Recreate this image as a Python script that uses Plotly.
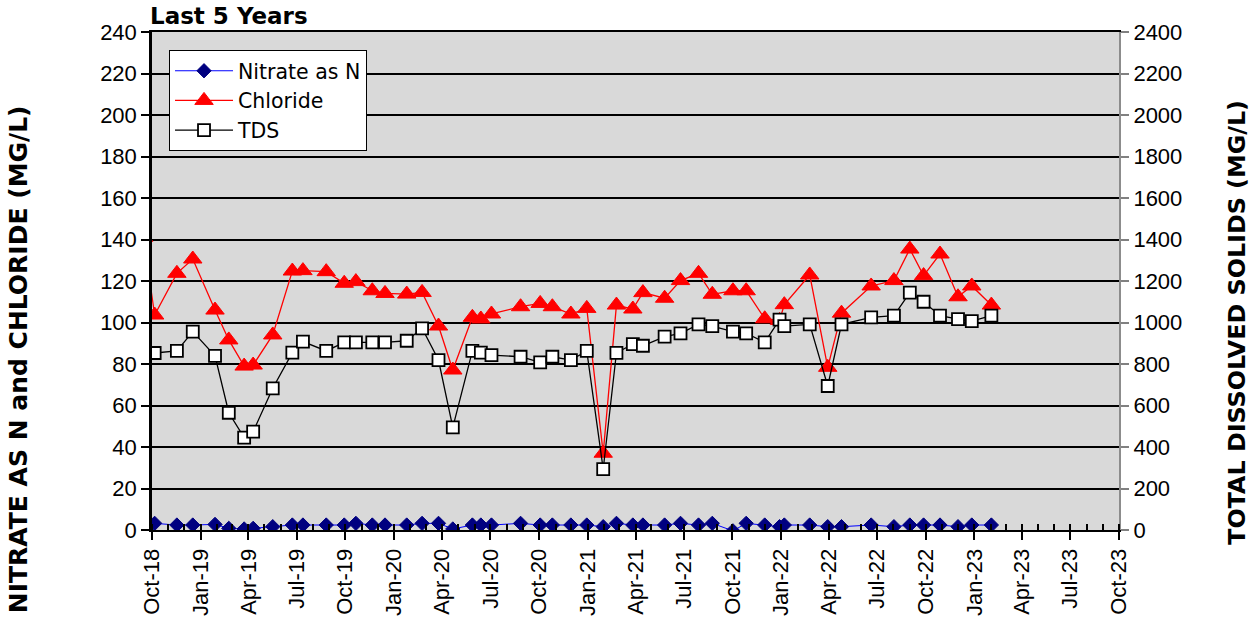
import plotly.graph_objects as go

# Sampling dates shared by the nitrate and TDS series
sample_dates = [
    "2018-10-06", "2018-11-17", "2018-12-17", "2019-01-28", "2019-02-23",
    "2019-03-24", "2019-04-10", "2019-05-17", "2019-06-23", "2019-07-13",
    "2019-08-26", "2019-09-29", "2019-10-21", "2019-11-21", "2019-12-15",
    "2020-01-25", "2020-02-23", "2020-03-25", "2020-04-21", "2020-05-28",
    "2020-06-13", "2020-07-03", "2020-08-27", "2020-10-03", "2020-10-26",
    "2020-11-30", "2020-12-30", "2021-01-30", "2021-02-24", "2021-03-27",
    "2021-04-15", "2021-05-26", "2021-06-25", "2021-07-29", "2021-08-24",
    "2021-10-02", "2021-10-27", "2021-12-01", "2021-12-29", "2022-01-07",
    "2022-02-24", "2022-03-30", "2022-04-25", "2022-06-20", "2022-08-02",
    "2022-09-01", "2022-09-27", "2022-10-28", "2022-12-01", "2022-12-27",
    "2023-02-02",
]

nitrate = [
    3.2, 2.4, 2.4, 2.7, 0.8, 0.5, 0.8, 1.6, 2.4, 2.4,
    2.4, 2.4, 3.2, 2.4, 2.4, 2.4, 3.2, 3.2, 0.5, 2.4,
    2.4, 2.4, 3.2, 2.4, 2.4, 2.4, 2.4, 1.6, 3.2, 2.4,
    2.4, 2.4, 3.2, 2.4, 3.2, -0.4, 3.2, 2.4, 1.6, 2.4,
    2.4, 1.6, 1.6, 2.4, 1.6, 2.4, 2.4, 2.4, 1.6, 2.4,
    2.4,
]

# Chloride also carries the sample taken just before the 5-year window
chloride_dates = ["2018-09-15"] + sample_dates
chloride = [
    141,
    103.6, 123.7, 130.6, 106.0, 91.6, 79.0, 79.5, 94.0, 124.8, 125.0,
    124.5, 118.9, 119.7, 115.3, 114.0, 113.7, 114.5, 98.3, 77.1, 102.5,
    101.7, 104.1, 107.6, 109.2, 107.6, 104.1, 106.8, 37.0, 108.4, 106.5,
    114.4, 111.7, 120.2, 123.7, 113.6, 115.3, 115.3, 101.8, 101.0, 108.6,
    122.9, 78.4, 104.5, 117.6, 120.2, 135.4, 122.6, 133.0, 112.4, 117.6,
    108.4,
]

tds = [
    853, 863, 956, 839, 565, 445, 474, 683, 855, 908,
    863, 904, 904, 904, 904, 912, 972, 819, 495, 863,
    855, 843, 835, 808, 835, 819, 863, 293, 854, 896,
    888, 932, 948, 991, 983, 956, 948, 904, 1014, 983,
    991, 694, 991, 1025, 1033, 1144, 1100, 1033, 1016, 1007,
    1033,
]

left_ticks = list(range(0, 241, 20))
right_ticks = list(range(0, 2401, 200))

TICK_FONT = dict(family="Liberation Sans, Arial, sans-serif", size=22, color="black")
TITLE_FONT = "DejaVu Sans, Verdana, sans-serif"

fig = go.Figure()

fig.add_trace(go.Scatter(
    x=sample_dates, y=nitrate, name="Nitrate as N", mode="lines+markers",
    line=dict(color="#0000FF", width=1),
    marker=dict(symbol="diamond", size=11, color="#000080",
                line=dict(color="#000080", width=1)),
    yaxis="y",
))

fig.add_trace(go.Scatter(
    x=chloride_dates, y=chloride, name="Chloride", mode="lines+markers",
    line=dict(color="#FF0000", width=1.3),
    marker=dict(symbol="triangle-up", size=16, color="#FF0000",
                line=dict(color="#FF0000", width=1)),
    yaxis="y",
))

fig.add_trace(go.Scatter(
    x=sample_dates, y=tds, name="TDS", mode="lines+markers",
    line=dict(color="black", width=1.3),
    marker=dict(symbol="square", size=12, color="white",
                line=dict(color="black", width=1.8)),
    yaxis="y2",
))

fig.update_layout(
    width=1255, height=621,
    margin=dict(l=152, r=136, t=32, b=91),
    paper_bgcolor="white",
    plot_bgcolor="#D9D9D9",
    showlegend=True,
    legend=dict(
        x=0.0176, y=0.964, xanchor="left", yanchor="top",
        bgcolor="white", bordercolor="black", borderwidth=1,
        font=dict(family=TITLE_FONT, size=20.5, color="black"),
        tracegroupgap=0, itemwidth=58,
    ),
    xaxis=dict(
        type="date", automargin=False,
        range=["2018-10-01", "2023-10-01"],
        tick0="2018-10-01", dtick="M3", tickformat="%b-%y",
        tickangle=-90, tickfont=TICK_FONT,
        ticks="outside", ticklen=8, tickwidth=2, tickcolor="black",
        minor=dict(dtick="M1", ticks="inside", ticklen=6, tickwidth=1.5,
                   tickcolor="black", showgrid=False),
        showgrid=False, zeroline=False,
        showline=True, linecolor="black", linewidth=2, mirror=True,
    ),
    yaxis=dict(
        automargin=False,
        range=[0, 240], tickvals=left_ticks, tickfont=TICK_FONT,
        ticks="outside", ticklen=8, tickwidth=2, tickcolor="black",
        showgrid=True, gridcolor="black", gridwidth=2,
        zeroline=False, showline=True, linecolor="black", linewidth=2.5,
    ),
    yaxis2=dict(
        automargin=False,
        overlaying="y", side="right",
        range=[0, 2400], tickvals=right_ticks, tickfont=TICK_FONT,
        ticks="outside", ticklen=8, tickwidth=2, tickcolor="#808080",
        showgrid=False, zeroline=False,
        showline=True, linecolor="#8C8C8C", linewidth=2,
    ),
    annotations=[
        dict(text="<b>Last 5 Years</b>", xref="paper", yref="paper",
             x=-0.004, y=1.032, xanchor="left", yanchor="middle",
             showarrow=False,
             font=dict(family=TITLE_FONT, size=23, color="black")),
        dict(text="<b>NITRATE AS N and CHLORIDE (MG/L)</b>",
             xref="paper", yref="paper", x=-0.1386, y=0.343,
             xanchor="center", yanchor="middle", textangle=-90,
             showarrow=False,
             font=dict(family=TITLE_FONT, size=25, color="black")),
        dict(text="<b>TOTAL DISSOLVED SOLIDS (MG/L)</b>",
             xref="paper", yref="paper", x=1.122, y=0.418,
             xanchor="center", yanchor="middle", textangle=-90,
             showarrow=False,
             font=dict(family=TITLE_FONT, size=23.8, color="black")),
    ],
)

fig.write_html("out.html")
